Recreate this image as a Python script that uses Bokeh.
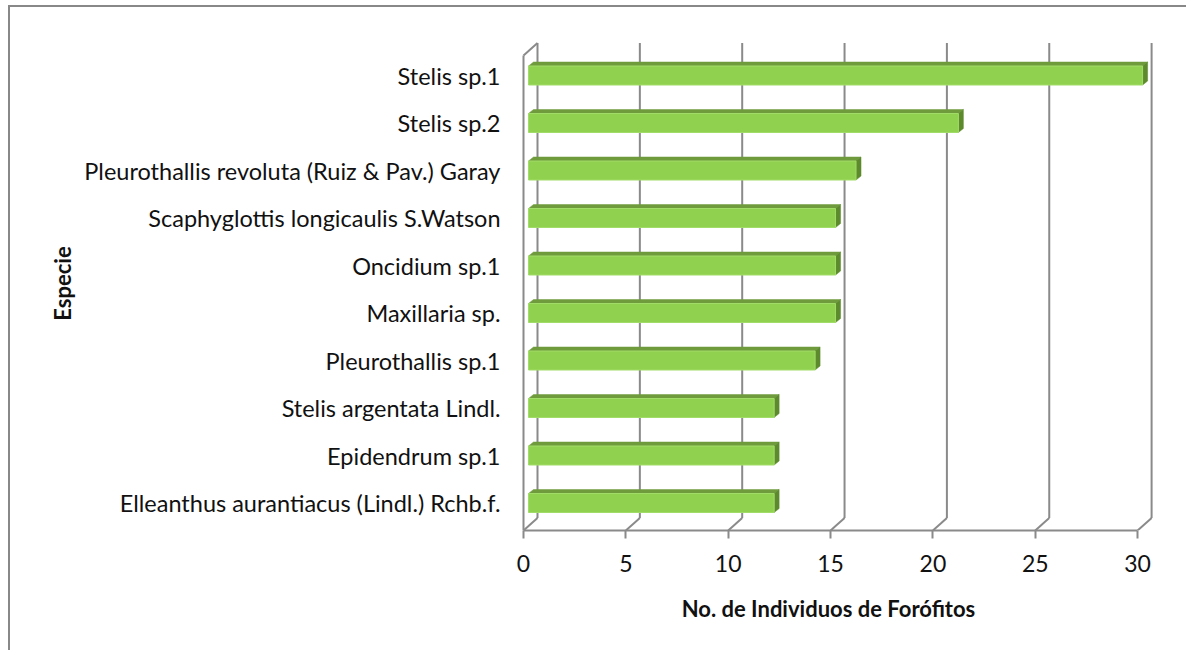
import numpy as np
from bokeh.plotting import figure
from bokeh.models import ColumnDataSource, FixedTicker, Range1d
from bokeh.embed import file_html
from bokeh.resources import INLINE

# ---------------- data ----------------
species = [
    "Stelis sp.1",
    "Stelis sp.2",
    "Pleurothallis revoluta (Ruiz & Pav.) Garay",
    "Scaphyglottis longicaulis S.Watson",
    "Oncidium sp.1",
    "Maxillaria sp.",
    "Pleurothallis sp.1",
    "Stelis argentata Lindl.",
    "Epidendrum sp.1",
    "Elleanthus aurantiacus (Lindl.) Rchb.f.",
]
counts = [30, 21, 16, 15, 15, 15, 14, 12, 12, 12]
x_ticks = [0, 5, 10, 15, 20, 25, 30]
x_title = "No. de Individuos de Forófitos"
y_title = "Especie"

# ---------------- layout (pixels) ----------------
W, H = 1186, 650
ZERO_PX = 523                 # screen x of value 0 on the front axis
FRAME_L, FRAME_R = 500, 1156
FRAME_T, FRAME_B = 36, 530
KX = 20.47                    # px per unit on x
KY = 47.5                     # px per category slot
FRAME_W = FRAME_R - FRAME_L
FRAME_H = FRAME_B - FRAME_T

XMIN = -(ZERO_PX - FRAME_L) / KX
XMAX = XMIN + FRAME_W / KX
YMAX = FRAME_H / KY

n = len(species)
y_off = 27.5 / KY                                  # bottom category centre above floor
ypos = [y_off + (n - 1 - i) for i in range(n)]     # top category first

DX, DY = 14 / KX, 12.5 / KY            # wall depth
BX0 = 5 / KX                            # bar front face start
BDX, BDY = 5 / KX, 4 / KY               # bar depth
BH = 9.5 / KY                           # bar half height
WALL_TOP = 10.0
XEND = x_ticks[-1]

GRAY = "#8a8a8a"
FRONT = "#90d14f"
TOP = "#6f9b3c"
SIDE = "#5c8a2c"
FONT = "Lato"

p = figure(width=W, height=H, output_backend="svg", toolbar_location=None,
           x_range=Range1d(XMIN, XMAX), y_range=Range1d(0, YMAX),
           min_border_left=FRAME_L, min_border_right=W - FRAME_R,
           min_border_top=FRAME_T, min_border_bottom=H - FRAME_B)
p.outline_line_color = None
p.grid.visible = False
p.background_fill_color = "white"
p.border_fill_color = None
p.styles = {"background-color": "white",
            "box-shadow": "inset 8px 5px 0 0 #ffffff, inset 10px 7px 0 0 #888888"}

# ---- walls / gridlines ----
gx0 = list(x_ticks)
p.segment(x0=[t + DX for t in gx0], y0=[DY] * len(gx0),
          x1=[t + DX for t in gx0], y1=[WALL_TOP + DY] * len(gx0),
          line_color=GRAY, line_width=2)
p.segment(x0=gx0, y0=[0] * len(gx0), x1=[t + DX for t in gx0], y1=[DY] * len(gx0),
          line_color=GRAY, line_width=2)
p.segment(x0=[0, 0], y0=[0, WALL_TOP], x1=[0, DX], y1=[WALL_TOP, WALL_TOP + DY],
          line_color=GRAY, line_width=2)

# ---- bars ----
xs_top, ys_top, xs_side, ys_side = [], [], [], []
for v, c in zip(counts, ypos):
    x1 = BX0 + v
    xs_top.append([BX0, BX0 + BDX, x1 + BDX, x1])
    ys_top.append([c + BH, c + BH + BDY, c + BH + BDY, c + BH])
    xs_side.append([x1, x1 + BDX, x1 + BDX, x1])
    ys_side.append([c + BH, c + BH + BDY, c - BH + BDY, c - BH])

p.patches(xs_top, ys_top, fill_color=TOP, line_color=TOP, line_width=0.5)
p.patches(xs_side, ys_side, fill_color=SIDE, line_color=SIDE, line_width=0.5)
src = ColumnDataSource(dict(left=[BX0] * n, right=[BX0 + v for v in counts],
                            bottom=[c - BH for c in ypos], top=[c + BH for c in ypos]))
p.quad(left="left", right="right", bottom="bottom", top="top", source=src,
       fill_color=FRONT, line_color="#a2dc68", line_width=1)

# ---- x axis ----
xa = p.xaxis[0]
xa.ticker = FixedTicker(ticks=x_ticks)
xa.bounds = (0, XEND)
xa.axis_line_color = GRAY
xa.axis_line_width = 2
xa.major_tick_line_color = GRAY
xa.major_tick_line_width = 2
xa.major_tick_in = 0
xa.major_tick_out = 8
xa.minor_tick_line_color = None
xa.major_label_text_font = FONT
xa.major_label_text_font_size = "23px"
xa.major_label_text_color = "#111111"
xa.major_label_standoff = 16
xa.axis_label = x_title
xa.axis_label_text_font = FONT
xa.axis_label_text_font_style = "bold"
xa.axis_label_text_font_size = "22px"
xa.axis_label_text_color = "#111111"
xa.axis_label_standoff = 20

# ---- y axis ----
ya = p.yaxis[0]
ya.ticker = FixedTicker(ticks=ypos)
ya.major_label_overrides = {y: s for y, s in zip(ypos, species)}
ya.axis_line_color = None
ya.major_tick_line_color = None
ya.minor_tick_line_color = None
ya.major_tick_in = 0
ya.major_tick_out = 0
ya.major_label_standoff = 0
ya.major_label_text_font = FONT
ya.major_label_text_font_size = "23.5px"
ya.major_label_text_color = "#111111"
ya.axis_label = y_title
ya.axis_label_text_font = FONT
ya.axis_label_text_font_style = "bold"
ya.axis_label_text_font_size = "22px"
ya.axis_label_text_color = "#111111"
ya.axis_label_standoff = 5

open("out.html", "w").write(file_html(p, INLINE))
